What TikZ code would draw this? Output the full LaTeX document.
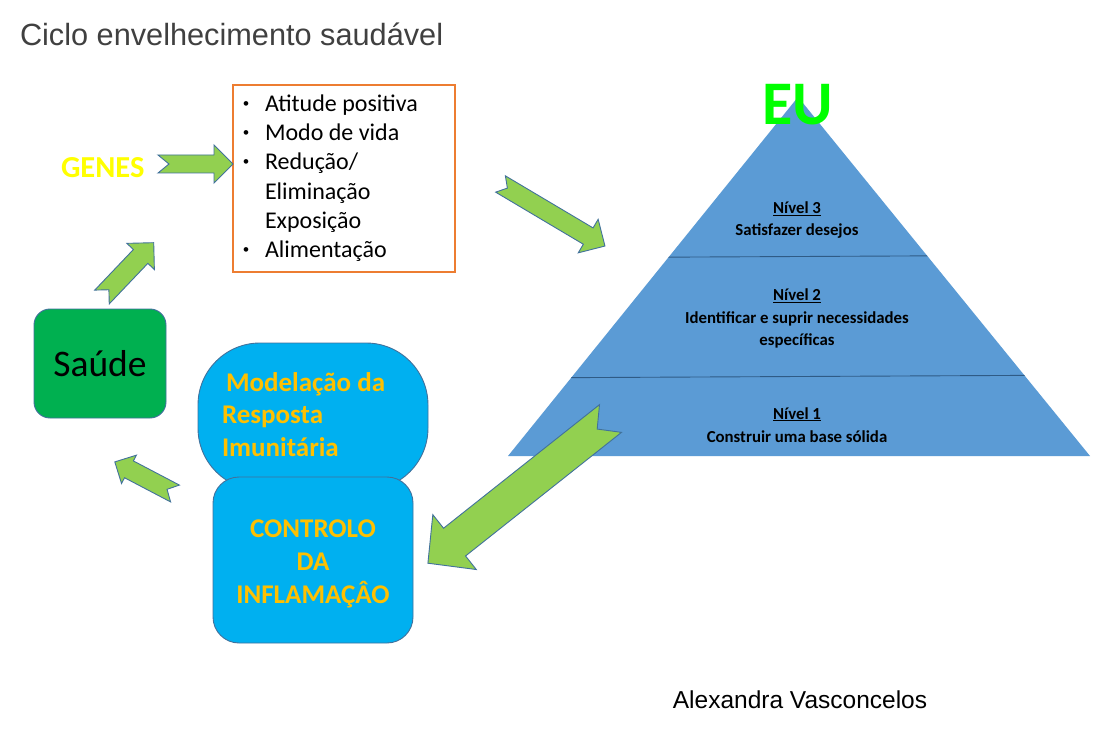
\documentclass[tikz,border=0pt]{standalone}
\usepackage{fontspec}
\setmainfont{Carlito}
\newfontfamily\arialf{Liberation Sans}
\definecolor{arrowgreen}{HTML}{92D050}
\definecolor{edgeblue}{HTML}{41719C}
\definecolor{saudegreen}{HTML}{00B050}
\definecolor{cyanbox}{HTML}{00B0F0}
\definecolor{goldtext}{HTML}{FFC000}
\definecolor{pyrblue}{HTML}{5B9BD5}
\definecolor{pyrline}{HTML}{2F5B86}
\definecolor{boxorange}{HTML}{ED7D31}
\definecolor{titlegray}{HTML}{404040}
\definecolor{eugreen}{HTML}{00FF00}
\definecolor{genesyellow}{HTML}{FFFF00}
\tikzset{
  greenarrow/.style={fill=arrowgreen, draw=edgeblue, line width=0.9pt, line join=miter},
  txt/.style={inner sep=0pt, outer sep=0pt},
  lst/.style={txt, anchor=base west, font=\fontsize{24}{29}\selectfont},
  bul/.style={txt, anchor=base, font=\arialf\fontsize{17}{20}\selectfont},
  gold/.style={txt, text=goldtext, font=\fontsize{27}{33}\selectfont\bfseries},
  pyr/.style={txt, anchor=base, font=\fontsize{16.8}{20}\selectfont\bfseries},
}
% tail x, tail y, angle, length, shaft half width, head half width, head length, notch
\newcommand{\blkarrow}[8]{%
  \begin{scope}[shift={(#1,#2)}, rotate=#3]
    \draw[greenarrow] (0,#5) -- ({#4-#7},#5) -- ({#4-#7},#6) -- (#4,0)
      -- ({#4-#7},-#6) -- ({#4-#7},-#5) -- (0,-#5) -- (#8,0) -- cycle;
  \end{scope}}
\begin{document}
\begin{tikzpicture}[x=1pt,y=-1pt]
\useasboundingbox[fill=white] (0,0) rectangle (1098,730);

% title
\node[txt, anchor=base west, text=titlegray, font=\arialf\fontsize{30.7}{36}\selectfont] (title) at (20,45.5) {Ciclo envelhecimento saudável};

% pyramid
\fill[pyrblue] (798,97) -- (1090,456) -- (508,456) -- cycle;
\begin{scope}
  \clip (798,97) -- (1090,456) -- (508,456) -- cycle;
  \draw[pyrline, line width=0.9pt] (500,258) -- (1100,255);
  \draw[pyrline, line width=0.9pt] (500,378) -- (1100,375);
\end{scope}
\node[pyr] (n3) at (797,214) {\underline{Nível 3}};
\node[pyr] (n3t) at (797,236) {Satisfazer desejos};
\node[pyr] (n2) at (797,301) {\underline{Nível 2}};
\node[pyr] (n2t) at (797,323) {Identificar e suprir necessidades};
\node[pyr] (n2u) at (797,345) {específicas};
\node[pyr] (n1) at (797,419) {\underline{Nível 1}};
\node[pyr] (n1t) at (797,442) {Construir uma base sólida};
\node[txt, anchor=base, text=eugreen, font=\fontsize{62}{70}\selectfont\bfseries] (eu) at (798,125) {EU};

% list box
\node[draw=boxorange, line width=1.2pt, minimum width=222pt, minimum height=187pt, inner sep=0pt] (listbox) at (344,178.5) {};
\node[bul] (b1) at (246,110) {•};
\node[lst] (l1) at (265,112) {Atitude positiva};
\node[bul] (b2) at (246,139) {•};
\node[lst] (l2) at (265,141) {Modo de vida};
\node[bul] (b3) at (246,168) {•};
\node[lst] (l3) at (265,170) {Redução/};
\node[lst] (l4) at (265,199.5) {Eliminação};
\node[lst] (l5) at (265,229) {Exposição};
\node[bul] (b6) at (246,256) {•};
\node[lst] (l6) at (265,258) {Alimentação};

% genes
\node[txt, anchor=base west, text=genesyellow, font=\fontsize{30.5}{36}\selectfont\bfseries] (genes) at (61,178) {GENES};

% saude
\node[draw=edgeblue, fill=saudegreen, line width=0.9pt, rounded corners=16pt, minimum width=132pt, minimum height=109pt, inner sep=0pt] (saude) at (100,363.5) {};
\node[txt, font=\fontsize{37.5}{44}\selectfont] (saudet) at (100,364) {Saúde};

% modelacao
\node[draw=edgeblue, fill=cyanbox, line width=0.9pt, rounded corners=62pt, minimum width=230pt, minimum height=147pt, inner sep=0pt] (modbox) at (313,416.5) {};
\node[gold, anchor=base west] (m1) at (226,391) {Modelação da};
\node[gold, anchor=base west] (m2) at (222,423) {Resposta};
\node[gold, anchor=base west] (m3) at (222,456) {Imunitária};

% controlo
\node[draw=edgeblue, fill=cyanbox, line width=0.9pt, rounded corners=26pt, minimum width=200pt, minimum height=166pt, inner sep=0pt] (ctrlbox) at (313,560) {};
\node[gold, anchor=base] (c1) at (313,537) {CONTROLO};
\node[gold, anchor=base] (c2) at (313,570) {DA};
\node[gold, anchor=base] (c3) at (313,603) {INFLAMAÇÂO};

% arrows
\blkarrow{158}{164}{0}{75}{9}{19}{19}{11}
\blkarrow{102}{297}{46.4}{75}{10}{19}{19}{10}
\blkarrow{175}{493.5}{152.3}{68}{9.5}{16}{16}{9}
\blkarrow{500.5}{184}{-30.7}{121.5}{9.5}{19.5}{19.5}{8}
\blkarrow{610.5}{418.5}{-141.6}{233}{17.7}{35}{34}{17}

% author
\node[txt, anchor=base, font=\arialf\fontsize{24.5}{28}\selectfont] (author) at (800,708) {Alexandra Vasconcelos};
\end{tikzpicture}
\end{document}
